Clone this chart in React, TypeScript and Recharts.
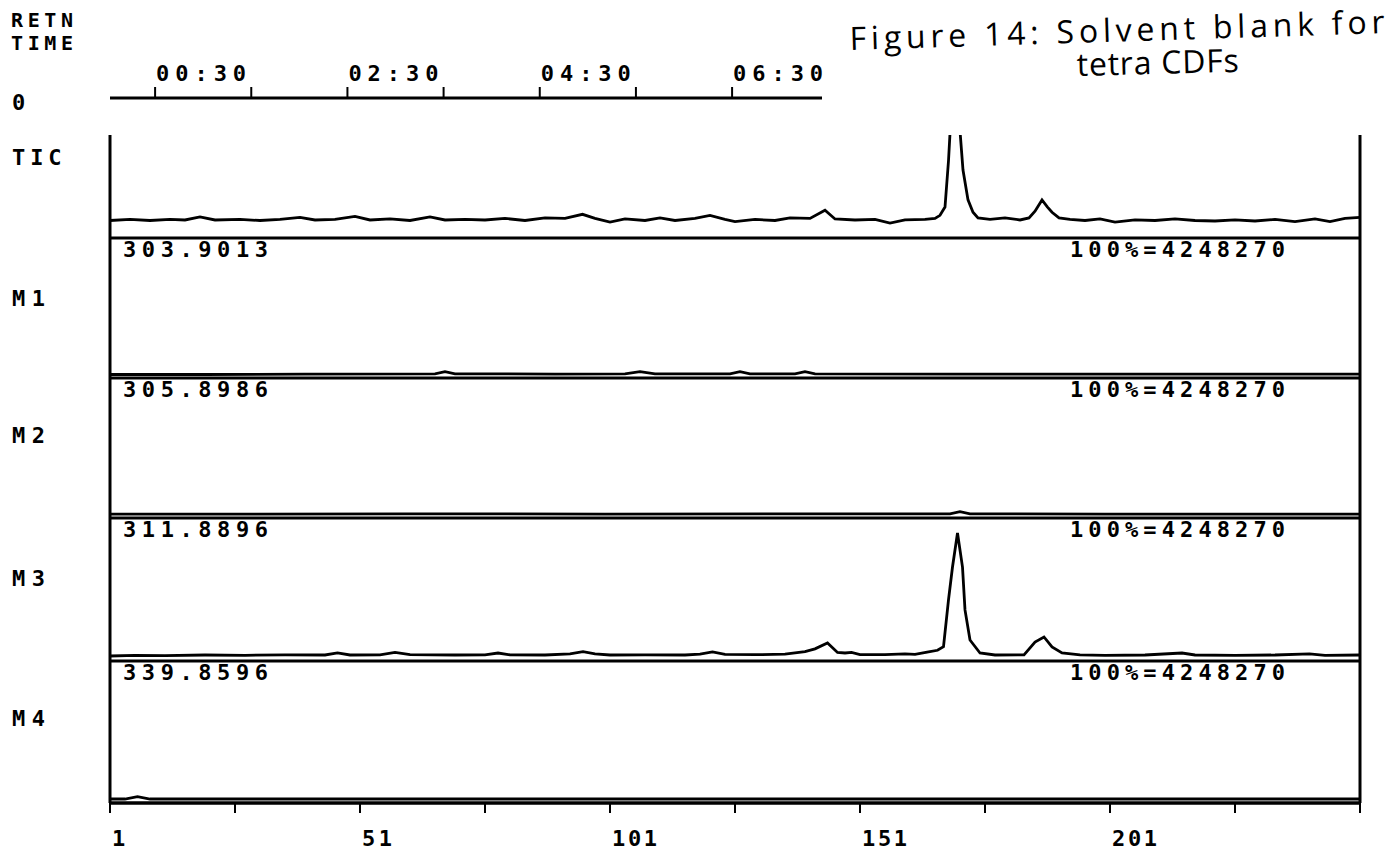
import { LineChart, Line, XAxis, YAxis, ReferenceLine } from 'recharts';

// scan axis (bottom) and retention time axis (top)
const SCAN_TICKS = [1, 26, 51, 76, 101, 126, 151, 176, 201, 226, 251];
const SCAN_LABELS = [1, 51, 101, 151, 201];
const TIME_TICKS = [0.5, 1.5, 2.5, 3.5, 4.5, 5.5, 6.5];
const TIME_LABELS = [0.5, 2.5, 4.5, 6.5];

const PANEL_NAMES = ['TIC', 'M1', 'M2', 'M3', 'M4'];
const MASSES = ['', '303.9013', '305.8986', '311.8896', '339.8596'];
const FULL_SCALE = '100%=4248270';

// [scan, % of panel height]
const TIC: [number, number][] = [
  [1, 17], [5, 18], [9, 17], [13, 18], [16, 17.5], [19, 20.5], [22, 17.5], [27, 18], [31, 17],
  [35, 18], [39, 20], [42, 17.5], [46, 18], [50, 21], [53, 17.5], [57, 18.5], [61, 17], [65, 20.5],
  [68, 17.5], [72, 18], [76, 17.5], [80, 19], [84, 17], [88, 19.5], [92, 19], [95.5, 23], [98, 19],
  [101, 15.5], [104, 18.5], [108, 17], [111, 19.5], [114, 17], [118, 19], [121, 22], [124, 18],
  [126, 16], [130, 18], [134, 17], [137, 19.5], [141, 19], [144, 27], [146, 18.5], [150, 17.5],
  [154, 18], [157, 14.5], [160, 17.5], [164, 18], [166, 19], [167, 22], [168, 30], [168.7, 75],
  [170, 190], [171, 104], [171.6, 66], [172.6, 37], [173.6, 25], [174.6, 19.5], [177, 18],
  [180, 19.5], [183, 17.5], [184.8, 19.5], [186, 26], [187.4, 37], [188.5, 30], [189.4, 25],
  [190.8, 19.5], [193, 18], [196, 17], [199, 18.5], [202, 15.5], [206, 17.5], [210, 17],
  [214, 18.5], [218, 17], [222, 16.5], [226, 17.5], [230, 16.5], [234, 18], [238, 16],
  [242, 18.5], [245, 16], [248, 19], [251, 20],
];

const M1: [number, number][] = [
  [1, 2.5], [20, 2.5], [40, 2.8], [66, 3], [68, 4.5], [70, 3], [90, 2.8], [104, 3], [107, 4.5],
  [110, 3], [125, 3], [127, 4.5], [129, 3], [138, 3], [140, 4.5], [142, 3], [170, 2.8],
  [200, 2.8], [230, 2.8], [251, 2.8],
];

const M2: [number, number][] = [
  [1, 2.8], [30, 2.8], [60, 3], [100, 2.8], [140, 3], [169, 3], [171, 4.5], [173, 3],
  [200, 2.8], [251, 2.8],
];

const M3: [number, number][] = [
  [1, 3.5], [6, 4], [12, 3.8], [20, 4.2], [28, 4], [36, 4.3], [44, 4.2], [46.5, 5.6], [49, 4.2],
  [55, 4.3], [58, 6], [61, 4.4], [70, 4.2], [76, 4.3], [78.6, 5.6], [81, 4.3], [88, 4.2],
  [93, 5], [95.6, 6.5], [98, 5], [101, 4.2], [108, 4.3], [116, 4.2], [119, 4.8], [121.5, 6.3],
  [124, 4.6], [130, 4.4], [136, 4.8], [140, 6.5], [142, 8.5], [144.5, 12.6], [146.5, 6],
  [148, 5.6], [149.3, 6], [151, 4.5], [156, 4.4], [160, 5], [162, 4.6], [164.7, 6.3],
  [166.5, 7.5], [167.7, 10], [168.7, 42.7], [169.5, 65.7], [170.5, 89.5], [171.5, 65.7],
  [172, 35.7], [173, 14.7], [175, 5.6], [178, 4.2], [183.8, 4.3], [186, 13.3], [187.8, 16.8],
  [189.4, 9.8], [191.4, 5.6], [195, 4.3], [200, 4], [208, 4.2], [215.4, 5.6], [218, 4.2],
  [226, 4], [234, 4.2], [240.9, 5], [244, 4], [251, 4.2],
];

const M4: [number, number][] = [
  [1, 2.8], [4, 2.8], [6.5, 4.5], [9, 2.8], [60, 2.8], [120, 2.8], [180, 2.8], [251, 2.8],
];

const TRACES = [TIC, M1, M2, M3, M4];

const W = 1393;
const H = 853;
const PANEL_TOP = [135, 238, 378, 518, 661];
const PANEL_BOTTOM = [238, 378, 518, 661, 803];
const LABEL_Y = [157, 298, 435, 578, 718];
const PAD = 5;
const T0 = 0.031;
const T1 = 7.435;

const MONO = '"DejaVu Sans Mono", "Liberation Mono", monospace';

function fmtTime(t: number) {
  const s = Math.round(t * 60);
  return `${String(Math.floor(s / 60)).padStart(2, '0')}:${String(s % 60).padStart(2, '0')}`;
}

function TimeTick(props: any) {
  const { x, y, payload } = props;
  if (!TIME_LABELS.includes(payload.value)) return <g />;
  return (
    <text x={x + 1} y={y - 4} fontFamily={MONO} fontWeight={700} fontSize={22} fill="#000"
      textLength={90} lengthAdjust="spacing">
      {fmtTime(payload.value)}
    </text>
  );
}

function ScanTick(props: any) {
  const { x, y, payload } = props;
  if (!SCAN_LABELS.includes(payload.value)) return <g />;
  const s = String(payload.value);
  return (
    <text x={x + 2} y={y + 31} fontFamily={MONO} fontWeight={700} fontSize={22} fill="#000"
      textLength={s.length * 15} lengthAdjust="spacing">
      {s}
    </text>
  );
}

function Panel({ i }: { i: number }) {
  const top = PANEL_TOP[i];
  const bottom = PANEL_BOTTOM[i];
  const last = i === TRACES.length - 1;
  const rows = TRACES[i].map(([scan, v]) => ({ scan, v }));
  const h = bottom - top + PAD * 2 + (last ? 45 : 0);
  return (
    <div style={{ position: 'absolute', left: 0, top: top - PAD }}>
      <LineChart width={W} height={h} data={rows}
        margin={{ top: PAD, right: 33, bottom: PAD, left: 110 }}>
        <XAxis type="number" dataKey="scan" domain={[1, 251]} ticks={SCAN_TICKS} hide={!last}
          height={45} tickSize={10} axisLine={{ stroke: '#000', strokeWidth: 3 }}
          tickLine={{ stroke: '#000', strokeWidth: 2 }} tick={<ScanTick />} interval={0} />
        <YAxis type="number" domain={[0, 100]} hide allowDataOverflow />
        <ReferenceLine x={1} stroke="#000" strokeWidth={3} />
        <ReferenceLine x={251} stroke="#000" strokeWidth={3} />
        <ReferenceLine y={0} stroke="#000" strokeWidth={3} />
        <Line dataKey="v" type="linear" stroke="#000" strokeWidth={2.8} dot={false}
          isAnimationActive={false} />
      </LineChart>
    </div>
  );
}

function TimeAxis() {
  const axisH = 45;
  return (
    <div style={{ position: 'absolute', left: 0, top: 98 - axisH }}>
      <LineChart width={W} height={axisH + (135 - 98)} data={[{ t: T0 }]}
        margin={{ top: 0, right: W - 822, bottom: 0, left: 110 }}>
        <XAxis type="number" dataKey="t" orientation="top" domain={[T0, T1]} ticks={TIME_TICKS}
          height={axisH} tickSize={11} interval={0} axisLine={{ stroke: '#000', strokeWidth: 3 }}
          tickLine={{ stroke: '#000', strokeWidth: 2 }} tick={<TimeTick />} />
        <YAxis type="number" domain={[0, 1]} hide />
        <ReferenceLine x={T0} stroke="#000" strokeWidth={3} />
      </LineChart>
    </div>
  );
}

export default function App() {
  const mono = { fontFamily: MONO, fontWeight: 700, fontSize: 22, fill: '#000' } as const;
  const hand = '"Open Sans", sans-serif';
  return (
    <div style={{ position: 'absolute', left: 0, top: 0, width: W, height: H, background: '#fff' }}>
      <TimeAxis />
      {TRACES.map((_, i) => <Panel key={i} i={i} />)}
      <svg width={W} height={H} style={{ position: 'absolute', left: 0, top: 0, pointerEvents: 'none' }}>
        <text x={11} y={20} dominantBaseline="central" {...mono} fontSize={20} textLength={62}
          lengthAdjust="spacing">RETN</text>
        <text x={11} y={43} dominantBaseline="central" {...mono} fontSize={20} textLength={62}
          lengthAdjust="spacing">TIME</text>
        <text x={12} y={102} dominantBaseline="central" {...mono}>0</text>
        {PANEL_NAMES.map((n, i) => (
          <text key={n} x={12} y={LABEL_Y[i]} dominantBaseline="central" {...mono}
            textLength={n.length * 16.5} lengthAdjust="spacing">{n}</text>
        ))}
        {MASSES.map((m, i) => m && (
          <g key={m}>
            <text x={123} y={PANEL_TOP[i] + 11} dominantBaseline="central" {...mono}
              textLength={145} lengthAdjust="spacing">{m}</text>
            <text x={1070} y={PANEL_TOP[i] + 11} dominantBaseline="central" {...mono}
              textLength={215} lengthAdjust="spacing">{FULL_SCALE}</text>
          </g>
        ))}
        <g transform="rotate(-1.8 850 50)">
          <text x={850} y={50} fontFamily={hand} fontSize={32} fill="#000"
            textLength={535} lengthAdjust="spacing">Figure 14: Solvent blank for</text>
        </g>
        <g transform="rotate(-1.5 1077 76)">
          <text x={1077} y={76} fontFamily={hand} fontSize={32} fill="#000"
            textLength={162} lengthAdjust="spacing">tetra CDFs</text>
        </g>
      </svg>
    </div>
  );
}
